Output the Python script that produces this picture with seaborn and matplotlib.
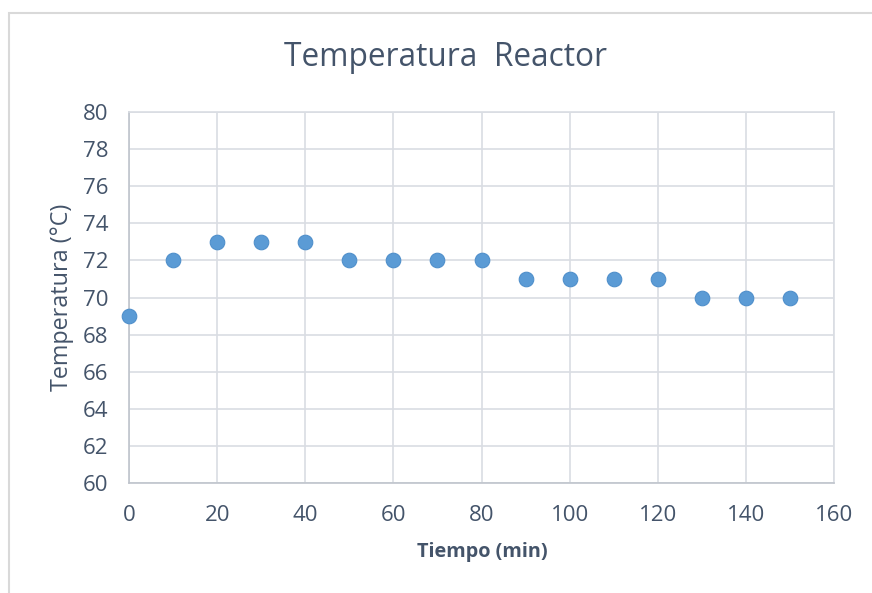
import matplotlib
matplotlib.use("Agg")
import matplotlib.pyplot as plt
import seaborn as sns
import pandas as pd
from matplotlib.patches import Rectangle

tiempo = [0, 10, 20, 30, 40, 50, 60, 70, 80, 90, 100, 110, 120, 130, 140, 150]
temperatura = [69, 72, 73, 73, 73, 72, 72, 72, 72, 71, 71, 71, 71, 70, 70, 70]
x_ticks = [0, 20, 40, 60, 80, 100, 120, 140, 160]
y_ticks = [60, 62, 64, 66, 68, 70, 72, 74, 76, 78, 80]

df = pd.DataFrame({"Tiempo": tiempo, "Temperatura": temperatura})

sns.set_theme(style="white")
plt.rcParams['font.family'] = ['Open Sans', 'DejaVu Sans']

text_color = "#44546A"
grid_color = "#D9DDE3"
axis_color = "#BFC4CC"

fig = plt.figure(figsize=(8.72, 5.93), dpi=100)
ax = fig.add_axes([129/872, 1-483/593, (834-129)/872, (483-112)/593])

# outer chart border (partially cropped)
fig.patches.append(Rectangle((9/872, -0.1), 1.2, 1 - 13/593 + 0.1,
                             transform=fig.transFigure, fill=False,
                             edgecolor="#D9D9D9", linewidth=1.5, zorder=0))

sns.scatterplot(data=df, x="Tiempo", y="Temperatura", ax=ax, s=110,
                color="#5B9BD5", edgecolor="#4F8FCB", linewidth=0.8, zorder=3,
                clip_on=False)

ax.set_xlim(0, 160)
ax.set_ylim(60, 80)
ax.set_xticks(x_ticks)
ax.set_yticks(y_ticks)
ax.grid(True, color=grid_color, linewidth=1.2)
ax.set_axisbelow(True)
for side in ["top", "right"]:
    ax.spines[side].set_color(grid_color)
    ax.spines[side].set_linewidth(1.2)
for side in ["left", "bottom"]:
    ax.spines[side].set_color(axis_color)
    ax.spines[side].set_linewidth(1.2)
ax.tick_params(axis="both", length=0, labelsize=16, labelcolor=text_color)
ax.tick_params(axis="x", pad=16)
ax.tick_params(axis="y", pad=15)

ax.set_xlabel("")
ax.set_ylabel("")
fig.text(482/872, 1-552/593, "Tiempo (min)", fontsize=14.3, fontweight="bold",
         color=text_color, ha="center", va="center")
fig.text(62/872, 1-297/593, "Temperatura (°C)", fontsize=16.8, color=text_color,
         ha="center", va="center", rotation=90)
fig.text(445/872, 1-57/593, "Temperatura  Reactor", fontsize=22.8, color=text_color,
         ha="center", va="center")

fig.savefig("out.png", dpi=100)
